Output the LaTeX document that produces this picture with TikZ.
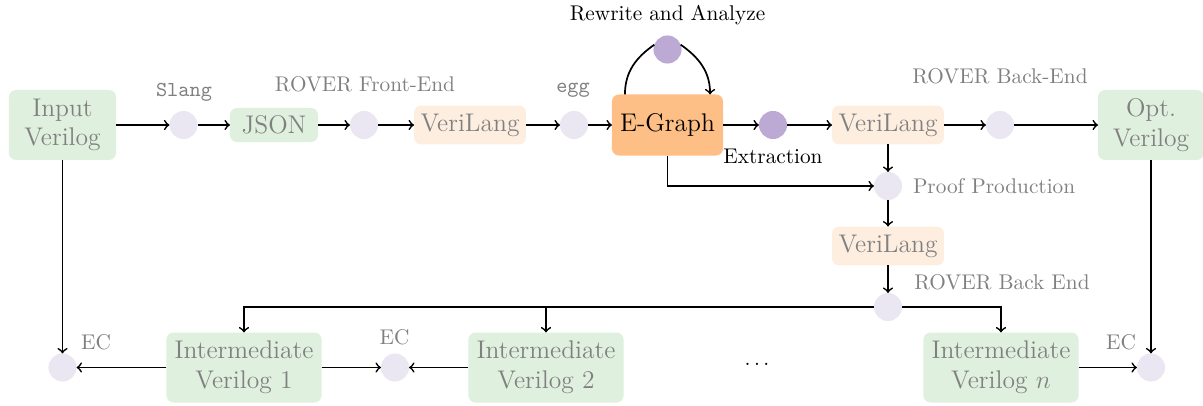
\documentclass[tikz,border=0pt]{standalone}
\usetikzlibrary{positioning}
\definecolor{boxgreen}{HTML}{DFF0DE}
\definecolor{boxpeach}{HTML}{FEEEE0}
\definecolor{boxorange}{HTML}{FDBF85}
\definecolor{dotlight}{HTML}{EAE7F2}
\definecolor{dotpurple}{HTML}{BCA9D4}
\definecolor{softtext}{HTML}{808080}
\begin{document}
\begin{tikzpicture}[x=0.47pt,y=0.47pt,
  every node/.style={inner sep=0pt, outer sep=0pt},
  box/.style={rounded corners=3.3pt, align=center, font=\large, text=softtext},
  greenbox/.style={box, fill=boxgreen},
  peachbox/.style={box, fill=boxpeach, minimum width=52.6pt, minimum height=18.3pt},
  dot/.style={circle, fill=dotlight, minimum size=13.2pt},
  pdot/.style={circle, fill=dotpurple, minimum size=13.2pt},
  lbl/.style={text=softtext},
  tlbl/.style={text=softtext, font=\ttfamily},
  flow/.style={->, thick}
]
\useasboundingbox (0,0) rectangle (1203,405);

% top row
\node[greenbox, minimum width=50.3pt, minimum height=32.9pt] (iv) at (62.5,280) {Input\\Verilog};
\node[dot] (c1) at (183.5,280) {};
\node[greenbox, minimum width=41.4pt, minimum height=16pt] (json) at (274,280) {JSON};
\node[dot] (c2) at (364,280) {};
\node[peachbox] (vl1) at (470,280) {VeriLang};
\node[dot] (c3) at (574,280) {};
\node[box, fill=boxorange, text=black, minimum width=52.2pt, minimum height=28.7pt] (eg) at (667.5,280) {E-Graph};
\node[pdot] (rw) at (667.5,355.5) {};
\node[pdot] (ex) at (773,280) {};
\node[peachbox] (vl2) at (888,280) {VeriLang};
\node[dot] (c4) at (1000,280) {};
\node[greenbox, minimum width=49.8pt, minimum height=32.9pt] (ov) at (1151,280) {Opt.\\Verilog};

% middle column
\node[dot] (pp) at (888,219) {};
\node[peachbox] (vl3) at (888,159) {VeriLang};
\node[dot] (c5) at (888,98) {};

% bottom row
\node[dot] (ec1) at (62.5,37.5) {};
\node[greenbox, minimum width=72.9pt, minimum height=32.9pt] (int1) at (244,37.5) {Intermediate\\Verilog 1};
\node[dot] (ec2) at (395,37.5) {};
\node[greenbox, minimum width=72.9pt, minimum height=32.9pt] (int2) at (546,37.5) {Intermediate\\Verilog 2};
\node (dots) at (757,41) {$\dots$};
\node[greenbox, minimum width=72.9pt, minimum height=32.9pt] (intn) at (1001,37.5) {Intermediate\\Verilog $n$};
\node[dot] (ec3) at (1151,37.5) {};

% labels
\node[tlbl] (lslang) at (184,313) {Slang};
\node[lbl] (lfront) at (365,321) {ROVER Front-End};
\node[tlbl] (legg) at (573,315) {egg};
\node (lrw) at (667.5,390) {Rewrite and Analyze};
\node (lex) at (773,249) {Extraction};
\node[lbl] (lback) at (1000,329) {ROVER Back-End};
\node[lbl, anchor=west] (lpp) at (913,219) {Proof Production};
\node[lbl] (lback2) at (1002,123) {ROVER Back End};
\node[lbl] (lec1) at (96,63) {EC};
\node[lbl] (lec2) at (394.5,68) {EC};
\node[lbl] (lec3) at (1121,63) {EC};

% main pipeline
\draw[flow] (iv) -- (c1);
\draw[flow] (c1) -- (json);
\draw[flow] (json) -- (c2);
\draw[flow] (c2) -- (vl1);
\draw[flow] (vl1) -- (c3);
\draw[flow] (c3) -- (eg);
\draw[flow] (eg) -- (ex);
\draw[flow] (ex) -- (vl2);
\draw[flow] (vl2) -- (c4);
\draw[flow] (c4) -- (ov);

% rewrite loop
\draw[thick] ([xshift=6.1pt]eg.north west) to[out=90,in=215] (rw.160);
\draw[flow] (rw.20) to[out=-35,in=90] ([xshift=-6.1pt]eg.north east);

% proof branch
\draw[flow] (vl2) -- (pp);
\draw[flow] (eg.south) |- (pp.west);
\draw[flow] (pp) -- (vl3);
\draw[flow] (vl3) -- (c5);
\draw[flow] (c5.west) -| (int1.north);
\draw[flow] (c5.west) -| (int2.north);
\draw[flow] (c5.east) -| (intn.north);

% equivalence checks
\draw[flow] (iv.south) -- (ec1.north);
\draw[flow] (ov.south) -- (ec3.north);
\draw[flow] (int1.west) -- (ec1.east);
\draw[flow] (int1.east) -- (ec2.west);
\draw[flow] (int2.west) -- (ec2.east);
\draw[flow] (intn.east) -- (ec3.west);
\end{tikzpicture}
\end{document}
